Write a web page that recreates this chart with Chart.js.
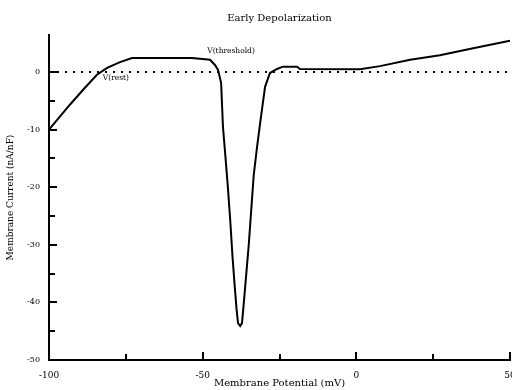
<!DOCTYPE html>
<html>
<head>
<meta charset="utf-8">
<script src="https://cdn.jsdelivr.net/npm/chart.js@4.4.0/dist/chart.umd.min.js"></script>
<style>
  html, body { margin: 0; padding: 0; background: #fff; }
  #wrap { width: 512px; height: 390px; }
</style>
</head>
<body>
<div id="wrap"><canvas id="myChart"></canvas></div>
<script>
// membrane potential (mV) and current (nA/nF)
let potential = [-100, -93.2, -88.9, -84.4, -81.1, -76.9, -73, -53.5, -47.6, -46, -45, -44, -43.4, -42.7, -41.8, -41, -40.3, -39.6, -39, -38.5, -37.8, -37.2, -36.6, -35.8, -35, -34.2, -33.4, -32.3, -31.3, -29.7, -28.1, -25.8, -23.9, -19.3, -18.3, 1.2, 7.7, 17.5, 27.2, 38, 50]
let current = [-10, -5.7, -3.1, -0.5, 0.7, 1.7, 2.4, 2.4, 2.1, 1.2, 0.35, -1.9, -9.5, -14, -20, -26, -32, -37, -41, -43.6, -44.1, -43.6, -40, -35, -30, -24, -18, -13, -8.9, -2.6, -0.2, 0.5, 0.9, 0.9, 0.5, 0.47, 1, 2.1, 2.9, 4.1, 5.4]
let xLabels = [-100, -50, 0, 50]
let yLabels = [0, -10, -20, -30, -40, -50]
let notes = [
    {text: "V(rest)", x: -82.5, y: -0.5},
    {text: "V(threshold)", x: -48.5, y: 4.2}
]
let title = "Early Depolarization"

let font = "DejaVu Serif"

// ticks pointing into the plot, the two labels and the title
let innerTicks = {
    id: "innerTicks",
    afterDatasetsDraw(chart) {
        let ctx = chart.ctx
        let xs = chart.scales.x
        let ys = chart.scales.y
        let area = chart.chartArea
        ctx.save()
        ctx.strokeStyle = "#000"
        ctx.lineWidth = 2
        ys.ticks.forEach(t => {
            if (t.value % 5 != 0) return
            let p = Math.round(ys.getPixelForValue(t.value))
            let len = t.value % 10 == 0 ? 8 : 6
            ctx.beginPath()
            ctx.moveTo(ys.right, p)
            ctx.lineTo(ys.right + len, p)
            ctx.stroke()
        })
        xs.ticks.forEach(t => {
            if (t.value % 25 != 0) return
            let p = Math.round(xs.getPixelForValue(t.value))
            let len = t.value % 50 == 0 ? 8 : 6
            ctx.beginPath()
            ctx.moveTo(p, xs.top)
            ctx.lineTo(p, xs.top - len)
            ctx.stroke()
        })
        ctx.fillStyle = "#000"
        ctx.font = "7.5px '" + font + "'"
        ctx.textBaseline = "top"
        notes.forEach(n => {
            ctx.fillText(n.text, xs.getPixelForValue(n.x), ys.getPixelForValue(n.y))
        })
        ctx.font = "10px '" + font + "'"
        ctx.textAlign = "center"
        ctx.textBaseline = "middle"
        ctx.fillText(title, (area.left + area.right) / 2, 18)
        ctx.restore()
    }
}

let c = new Chart(document.getElementById("myChart"), {
    type: "line",
    data: {
        datasets: [{
            label: "current",
            data: potential.map((v, i) => ({x: v, y: current[i]})),
            borderColor: "#000",
            borderWidth: 2,
            pointRadius: 0,
            tension: 0
        }, {
            label: "zero",
            data: [{x: -100, y: 0}, {x: 50, y: 0}],
            borderColor: "#000",
            borderWidth: 2,
            borderDash: [2, 6],
            pointRadius: 0
        }]
    },
    options: {
        responsive: true,
        maintainAspectRatio: false,
        animation: false,
        layout: {padding: {left: 0, right: 2, top: 35, bottom: 1}},
        plugins: {
            legend: {display: false},
            tooltip: {enabled: false},
            title: {display: false}
        },
        scales: {
            x: {
                type: "linear",
                min: -100,
                max: 50,
                grid: {display: false},
                border: {display: true, color: "#000", width: 2},
                afterFit: s => { s.height = 29; s.paddingLeft = 0; s.paddingRight = 0 },
                ticks: {
                    stepSize: 25,
                    autoSkip: false,
                    maxRotation: 0,
                    color: "#000",
                    padding: 2,
                    font: {family: font, size: 9},
                    callback: v => xLabels.includes(v) ? String(v) : ""
                },
                title: {
                    display: true,
                    text: "Membrane Potential (mV)",
                    color: "#000",
                    font: {family: font, size: 10},
                    padding: {top: 2, bottom: 0}
                }
            },
            y: {
                min: -50,
                max: 6.4,
                grid: {display: false},
                border: {display: true, color: "#000", width: 2},
                afterFit: s => { s.width = 49; s.paddingTop = 0 },
                ticks: {
                    stepSize: 5,
                    autoSkip: false,
                    color: "#000",
                    padding: 1,
                    font: {family: font, size: 8},
                    callback: v => yLabels.includes(v) ? String(v) : ""
                },
                title: {
                    display: true,
                    text: "Membrane Current (nA/nF)",
                    color: "#000",
                    font: {family: font, size: 9},
                    padding: {top: 5, bottom: 0}
                }
            }
        }
    },
    plugins: [innerTicks]
})
</script>
</body>
</html>
